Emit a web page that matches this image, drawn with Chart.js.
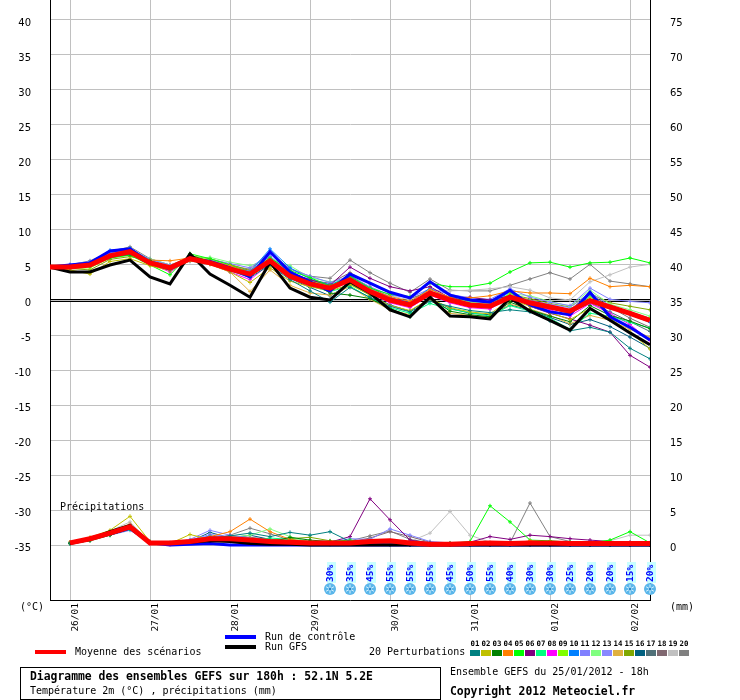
<!DOCTYPE html>
<html><head><meta charset="utf-8">
<script src="https://cdn.jsdelivr.net/npm/chart.js@4.4.1/dist/chart.umd.min.js"></script>
<style>
html,body{margin:0;padding:0;background:#fff;}
#wrap{position:relative;width:740px;height:700px;overflow:hidden;background:#fff;}
#c{position:absolute;left:0;top:0;}
.t{position:absolute;font-family:'DejaVu Sans Mono',monospace;font-size:10px;line-height:12px;color:#000;white-space:pre;}
.b{font-weight:bold;font-size:11.4px;line-height:13px;}
.ln{position:absolute;height:4px;}
.sw{position:absolute;width:10px;height:6px;}
.nm{position:absolute;font-family:'DejaVu Sans Mono',monospace;font-weight:bold;font-size:7.4px;line-height:8px;width:11px;text-align:center;}
#box{position:absolute;left:20px;top:667px;width:419px;height:31px;border:1px solid #000;}
</style></head><body>
<div id="wrap">
<canvas id="c" width="740" height="700"></canvas>
<div class="t" style="left:60px;top:501px;">Précipitations</div>
<div class="t" style="left:20px;top:601px;">(°C)</div>
<div class="t" style="left:670px;top:601px;">(mm)</div>
<div class="ln" style="left:35px;top:650px;width:31px;background:#ff0000;"></div>
<div class="t" style="left:75px;top:646px;">Moyenne des scénarios</div>
<div class="ln" style="left:225px;top:635px;width:31px;background:#0000ff;"></div>
<div class="t" style="left:265px;top:631px;">Run de contrôle</div>
<div class="ln" style="left:225px;top:645px;width:31px;background:#000000;"></div>
<div class="t" style="left:265px;top:641px;">Run GFS</div>
<div class="t" style="left:369px;top:646px;">20 Perturbations</div>
<div id="sw"></div>
<div id="box"></div>
<div class="t b" style="left:30px;top:670px;">Diagramme des ensembles GEFS sur 180h : 52.1N 5.2E</div>
<div class="t" style="left:30px;top:685px;">Température 2m (°C) , précipitations (mm)</div>
<div class="t" style="left:450px;top:666px;">Ensemble GEFS du 25/01/2012 - 18h</div>
<div class="t b" style="left:450px;top:685px;">Copyright 2012 Meteociel.fr</div>
</div>
<script>
// ---- axes / categories ----
const HOURS = [0,6,12,18,24,30,36,42,48,54,60,66,72,78,84,90,96,102,108,114,120,126,132,138,144,150,156,162,168,174,180];
const DATE_TICKS_H = [6,30,54,78,102,126,150,174];
const DATE_LABELS = ['26/01','27/01','28/01','29/01','30/01','31/01','01/02','02/02'];
const TEMP_TICKS = [-35,-30,-25,-20,-15,-10,-5,0,5,10,15,20,25,30,35,40];
const RIGHT_TICKS = [0,5,10,15,20,25,30,35,40,45,50,55,60,65,70,75];
const TEMP_MIN = -42.857, TEMP_MAX = 42.857;
const MM_MIN = -7.857, MM_MAX = 77.857;
const SNOW_HOURS = [84,90,96,102,108,114,120,126,132,138,144,150,156,162,168,174,180];
const SNOW_PCT = [30,35,45,55,55,55,45,50,55,40,30,30,25,20,20,15,20];
const PERT_LABELS = ['01','02','03','04','05','06','07','08','09','10','11','12','13','14','15','16','17','18','19','20'];
const PERT_COLORS = ['#008080','#c0c000','#008000','#ff8000','#00ff00','#800080','#00ff80','#ff00ff','#80ff00','#0080ff','#8080ff','#80ff80','#8888ff','#e0b040','#80a800','#006080','#507078','#806870','#c0c0c0','#808080'];

// ---- temperature 2m (°C) ----
const MEAN_T = [4.7,4.7,5.0,6.3,6.9,5.3,4.6,5.9,5.3,4.4,3.7,5.6,3.4,2.3,1.7,2.9,1.2,0.0,-0.7,1.0,0.0,-0.7,-0.9,0.4,-0.4,-1.0,-1.6,-0.1,-1.0,-1.9,-2.9];
const GFS_T = [4.7,4.0,4.0,5.0,5.7,3.3,2.3,6.6,3.7,2.1,0.4,5.4,1.7,0.4,0.0,2.6,1.0,-1.4,-2.4,0.4,-2.3,-2.4,-2.7,0.3,-1.6,-2.9,-4.3,-1.2,-2.9,-4.7,-6.4];
const CTRL_T = [4.7,5.0,5.3,7.0,7.3,5.3,4.4,5.9,5.5,4.6,3.3,6.9,4.0,2.6,1.3,3.7,2.4,1.1,0.3,2.6,0.7,0.0,-0.3,1.4,-0.7,-1.7,-2.1,1.1,-2.4,-3.9,-5.7];
const T01 = [4.7,4.6,4.9,6.1,6.6,5.2,4.5,6.2,5.4,4.2,3.2,5.0,2.9,1.3,-0.3,1.8,0.4,-0.9,-1.7,-0.2,-0.9,-1.5,-1.8,-1.4,-1.7,-3.0,-4.4,-3.9,-4.6,-6.9,-8.4];
const T02 = [4.7,4.3,3.7,5.5,5.9,4.9,4.2,5.6,5.1,4.0,2.5,4.6,2.7,1.9,1.3,2.2,0.7,-0.8,-1.5,0.2,-1.1,-1.7,-2.0,0.1,-0.9,-1.8,-2.8,-1.2,-2.6,-4.6,-7.0];
const T03 = [4.7,4.6,5.2,6.2,6.5,5.6,4.2,6.4,5.5,4.3,3.4,5.2,3.6,2.6,1.0,0.7,0.2,-1.2,-2.4,0.4,-1.6,-2.1,-2.4,-0.3,-1.4,-2.3,-3.1,-0.8,-2.2,-3.0,-4.1];
const T04 = [4.7,4.9,5.2,6.5,6.8,5.7,5.6,6.0,5.6,4.9,3.9,5.4,3.8,2.6,1.9,3.0,1.5,0.5,-0.2,1.5,0.4,0.3,0.6,1.3,1.0,1.0,0.9,3.1,1.9,2.1,1.9];
const T05 = [4.7,4.8,5.1,6.0,6.4,5.0,3.6,6.6,5.9,5.0,3.9,6.0,4.2,3.2,2.0,3.4,1.7,0.8,0.5,2.4,1.9,1.9,2.4,4.0,5.3,5.4,4.7,5.3,5.4,6.0,5.3];
const T06 = [4.7,4.7,5.1,6.4,7.0,5.4,4.5,5.8,5.2,4.3,3.5,5.5,3.9,2.9,2.1,4.7,3.1,1.9,1.3,1.9,0.3,0.4,0.0,0.6,-0.9,-1.9,-2.7,-3.6,-4.6,-7.9,-9.6];
const T07 = [4.7,4.6,4.9,6.2,6.8,5.1,4.4,6.1,5.5,4.5,3.6,5.3,3.2,2.0,1.2,2.0,0.3,-1.1,-1.9,-0.5,-1.3,-1.8,-2.3,-0.8,-1.6,-2.6,-4.2,-1.9,-2.3,-3.2,-4.0];
const T08 = [4.7,4.8,5.0,6.4,6.9,5.2,4.0,5.9,5.2,4.0,2.9,5.2,3.1,2.1,1.4,2.6,0.9,-0.4,-1.1,0.7,-0.4,-1.1,-1.3,0.5,-0.7,-1.4,-2.3,-0.5,-1.9,-3.5,-5.8];
const T09 = [4.7,4.5,4.6,6.0,6.5,5.5,4.8,6.2,5.7,4.7,3.8,5.5,3.5,2.6,2.1,2.7,1.0,-0.3,-1.0,0.9,-0.2,-0.9,-1.2,1.0,-0.2,-0.8,-1.5,0.4,-0.9,-1.8,-2.6];
const T10 = [4.7,5.0,5.4,7.1,7.4,5.7,4.7,5.8,5.6,4.8,4.0,7.3,4.6,3.0,2.2,3.3,1.6,0.3,-0.3,1.7,0.0,-0.6,-0.8,1.2,-0.6,-1.2,-1.9,0.6,-1.2,-2.1,-3.2];
const T11 = [4.7,5.1,5.5,6.8,7.2,5.8,5.0,5.7,5.8,5.2,4.6,6.6,4.5,3.4,2.5,3.4,1.9,0.7,0.3,1.6,0.8,0.3,0.1,1.6,0.4,-0.3,-0.8,1.7,0.1,-0.2,-0.4];
const T12 = [4.7,4.8,5.3,6.2,6.7,5.9,5.0,5.9,6.1,5.4,4.9,5.9,4.9,3.2,2.6,3.0,1.3,0.2,-0.5,0.8,0.1,-0.3,-0.6,0.9,0.6,-0.2,-0.9,1.4,-0.6,-1.4,-2.3];
const T13 = [4.7,4.9,5.3,6.6,7.0,5.4,4.9,5.5,5.4,4.6,4.1,6.3,3.7,2.5,1.8,3.1,1.4,0.3,-0.5,1.3,0.2,-0.6,-0.7,0.7,-0.1,-0.6,-1.1,1.1,-0.8,-1.7,-2.6];
const T14 = [4.7,4.6,4.9,6.1,6.6,5.0,4.3,5.6,5.1,4.0,1.2,4.3,2.1,1.0,0.7,1.9,0.1,-1.4,-2.1,0.0,-1.9,-2.2,-2.5,-0.6,-1.3,-2.2,-3.4,-2.2,-2.9,-4.2,-5.3];
const T15 = [4.7,4.5,4.3,5.8,6.2,5.6,4.8,6.3,5.9,5.1,4.2,5.7,3.8,2.9,1.9,2.4,0.9,-0.1,-0.8,0.6,0.3,-0.4,-0.6,0.8,0.2,-0.5,-1.0,0.9,-0.4,-0.9,-1.4];
const T16 = [4.7,4.7,5.0,6.3,6.8,5.3,4.7,6.0,5.4,4.3,3.6,5.2,3.1,1.8,0.6,2.3,0.7,-0.7,-1.6,0.2,-1.2,-1.9,-2.1,-0.7,-1.4,-2.5,-3.5,-2.8,-3.8,-5.3,-6.9];
const T17 = [4.7,4.8,5.1,6.5,7.1,5.4,4.5,5.8,5.2,4.4,3.8,5.9,3.4,2.4,1.6,3.5,1.8,0.4,-0.6,1.1,-0.1,-0.8,-1.0,0.5,-0.5,-1.2,-1.9,-0.4,-1.7,-3.1,-4.5];
const T18 = [4.7,4.9,5.4,6.7,7.3,5.6,4.8,5.9,5.5,4.7,4.2,6.2,3.9,2.8,2.4,3.9,2.3,1.0,0.2,1.2,0.4,-0.2,-0.4,0.7,0.0,-0.7,-1.4,0.9,-1.0,-2.6,-3.9];
const T19 = [4.7,4.8,5.2,6.6,7.0,5.5,4.9,6.0,5.6,4.8,4.1,6.1,3.8,2.7,2.0,3.2,1.6,0.6,0.0,1.4,1.3,1.4,1.6,1.9,1.4,0.3,0.0,2.6,3.6,4.7,5.1];
const T20 = [4.7,5.0,5.6,6.9,7.6,5.9,5.0,6.0,5.7,4.9,4.4,6.8,4.4,3.4,3.1,5.7,3.9,2.4,1.1,3.0,1.4,1.3,1.3,2.1,3.0,3.9,3.0,5.1,2.7,2.3,1.9];

// ---- precipitation (mm / 6h) ----
const MEAN_R = [null,0.3,0.9,1.7,2.6,0.3,0.3,0.5,0.9,0.9,0.7,0.5,0.4,0.3,0.3,0.3,0.5,0.6,0.3,0.1,0.1,0.2,0.3,0.2,0.3,0.3,0.2,0.2,0.2,0.2,0.2];
const GFS_R = [null,0.2,0.8,1.9,2.8,0.2,0.3,0.4,0.6,0.5,0.2,0.1,0.1,0,0,0,0,0,0,0,0,0,0,0,0,0,0,0,0,0,0];
const CTRL_R = [null,0.3,0.9,1.6,2.4,0.3,0,0.1,0.2,0,0,0,0,0,0,0,0,0,0,0,0,0,0,0,0,0,0,0,0,0,0];
const R01 = [null,0.3,0.8,1.6,2.5,0.4,0.3,0.6,1.0,1.3,1.7,1.2,1.8,1.4,1.9,0.5,0.2,0.1,0.0,0.1,0.0,0.1,0.2,0.1,0.1,0.0,0.0,0.1,0.0,0.0,0.0];
const R02 = [null,0.4,1.1,2.1,4.1,0.5,0.2,1.5,0.8,0.6,0.4,0.3,0.2,0.1,0.1,0.2,0.3,0.2,0.1,0.0,0.1,0.2,0.1,0.2,0.1,0.1,0.2,0.1,0.1,0.2,0.1];
const R03 = [null,0.2,0.6,1.4,2.3,0.3,0.2,0.4,0.5,0.9,0.6,0.4,1.1,0.7,0.5,0.3,0.2,0.1,0.0,0.0,0.1,0.1,0.0,0.3,0.2,0.1,0.1,0.0,0.1,0.0,0.1];
const R04 = [null,0.3,0.9,1.8,2.7,0.3,0.2,0.6,1.2,1.9,3.7,1.9,0.8,0.5,0.3,0.4,0.6,0.3,0.2,0.1,0.2,0.1,0.3,0.2,0.6,0.4,0.2,0.3,0.2,0.1,0.1];
const R05 = [null,0.3,0.8,1.5,2.4,0.4,0.2,0.3,0.6,0.7,0.5,0.6,0.4,0.3,0.5,0.7,0.4,0.3,0.2,0.2,0.2,0.5,5.6,3.3,0.7,0.6,0.4,0.3,0.7,1.9,0.3];
const R06 = [null,0.3,0.9,1.7,2.5,0.3,0.2,0.4,0.7,0.6,0.4,0.5,0.3,0.2,0.4,1.2,6.6,3.6,0.7,0.3,0.2,0.4,1.2,0.8,1.4,1.2,0.9,0.7,0.5,0.4,0.3];
const R07 = [null,0.2,0.7,1.5,2.2,0.3,0.3,0.5,0.8,0.7,0.6,1.0,0.8,0.5,0.4,0.3,0.2,0.1,0.1,0.2,0.1,0.1,0.2,0.1,0.3,0.2,0.1,0.1,0.2,0.1,0.0];
const R08 = [null,0.3,0.9,1.9,2.8,0.2,0.1,0.3,0.9,0.8,0.6,0.4,0.3,0.2,0.2,0.3,0.4,0.3,0.1,0.1,0.1,0.2,0.1,0.1,0.2,0.1,0.1,0.2,0.1,0.0,0.0];
const R09 = [null,0.3,0.8,1.6,2.5,0.4,0.2,0.5,0.7,0.6,0.9,0.5,0.4,0.3,0.3,0.2,0.3,0.2,0.2,0.1,0.2,0.1,0.2,0.3,0.2,0.1,0.2,0.1,0.0,0.1,0.1];
const R10 = [null,0.3,1.0,1.8,2.6,0.3,0.2,0.6,1.3,0.9,0.7,0.6,0.5,0.3,0.2,0.4,0.5,0.3,0.1,0.1,0.0,0.1,0.1,0.0,0.1,0.0,0.1,0.0,0.1,0.0,0.0];
const R11 = [null,0.2,0.7,1.4,2.1,0.3,0.2,0.8,2.1,1.4,1.0,0.7,0.5,0.3,0.4,0.9,0.8,2.3,1.4,0.5,0.3,0.2,0.2,0.1,0.2,0.1,0.1,0.2,0.1,0.1,0.0];
const R12 = [null,0.3,0.9,1.7,2.6,0.4,0.2,0.4,0.6,1.1,1.4,2.3,1.2,0.4,0.3,0.5,0.3,0.1,0.1,0.1,0.2,0.1,0.2,0.1,0.1,0.2,0.1,0.1,0.0,0.1,0.1];
const R13 = [null,0.2,0.8,1.5,2.3,0.3,0.3,0.7,1.5,1.2,0.8,0.5,0.3,0.2,0.2,0.3,0.2,0.2,0.1,0.1,0.1,0.1,0.0,0.1,0.1,0.1,0.0,0.1,0.1,0.0,0.1];
const R14 = [null,0.4,1.0,2.0,3.0,0.2,0.1,0.5,0.7,0.9,0.8,0.6,0.4,0.3,0.2,0.2,0.3,0.2,0.1,0.0,0.1,0.2,0.1,0.1,0.2,0.1,0.1,0.0,0.1,0.1,0.0];
const R15 = [null,0.3,0.8,1.6,2.4,0.3,0.2,0.4,0.6,0.8,1.0,0.7,0.9,1.1,0.6,0.4,0.2,0.1,0.0,0.1,0.1,0.2,0.1,0.2,0.1,0.0,0.1,0.1,0.0,0.0,0.1];
const R16 = [null,0.3,0.9,1.8,2.9,0.5,0.3,0.5,1.8,1.0,1.4,0.8,0.6,0.4,0.3,0.2,0.2,0.1,0.1,0.0,0.1,0.0,0.1,0.1,0.0,0.1,0.0,0.1,0.0,0.0,0.0];
const R17 = [null,0.3,0.9,1.7,2.7,0.3,0.2,0.4,0.7,0.8,0.6,0.4,0.3,0.2,0.1,0.3,0.5,0.4,0.2,0.1,0.1,0.2,0.1,0.1,0.2,0.1,0.1,0.1,0.0,0.1,0.0];
const R18 = [null,0.2,0.8,1.6,2.5,0.3,0.2,0.5,0.9,1.3,1.1,0.8,0.5,0.4,0.3,0.4,1.0,1.9,1.2,0.4,0.2,0.1,0.2,0.1,0.2,0.1,0.1,0.0,0.1,0.1,0.0];
const R19 = [null,0.4,1.0,2.0,3.3,0.4,0.3,0.6,1.0,1.1,0.9,0.7,0.5,0.4,0.3,0.4,0.2,0.2,0.5,1.7,4.8,1.4,0.4,0.2,0.3,0.4,0.2,0.3,0.6,1.4,1.4];
const R20 = [null,0.3,0.9,1.8,2.8,0.4,0.2,0.4,0.8,1.4,2.4,1.6,0.7,0.5,0.3,0.6,1.3,2.0,0.8,0.3,0.2,0.2,0.1,0.3,6.0,1.2,0.5,0.3,0.2,0.1,0.1];

const PERT_T = [T01,T02,T03,T04,T05,T06,T07,T08,T09,T10,T11,T12,T13,T14,T15,T16,T17,T18,T19,T20];
const PERT_R = [R01,R02,R03,R04,R05,R06,R07,R08,R09,R10,R11,R12,R13,R14,R15,R16,R17,R18,R19,R20];

// ---- legend swatches (DOM) ----
(function(){
  const host = document.getElementById('sw');
  PERT_COLORS.forEach((c,i)=>{
    const s = document.createElement('div'); s.className='sw';
    s.style.left=(470+i*11)+'px'; s.style.top='650px'; s.style.background=c; host.appendChild(s);
    const n = document.createElement('div'); n.className='nm'; n.textContent=PERT_LABELS[i];
    n.style.left=(469.5+i*11)+'px'; n.style.top='640px'; host.appendChild(n);
  });
})();

function series(label, vals, color, width, axis, order, pts){
  return {label, data: vals.map((v,i)=>({x:HOURS[i], y:v})), borderColor: color, backgroundColor: color,
    borderWidth: width, pointRadius: pts?2:0, pointStyle:'cross', pointBorderWidth:1, pointBorderColor: color,
    tension:0, yAxisID: axis, order, fill:false, spanGaps:false};
}
const datasets = [];
datasets.push(series('Moyenne des scénarios', MEAN_T, '#ff0000', 5, 'y', 0, false));
datasets.push(series('Run GFS', GFS_T, '#000000', 3, 'y', 1, false));
datasets.push(series('Run de contrôle', CTRL_T, '#0000ff', 3, 'y', 2, false));
PERT_T.forEach((d,i)=>datasets.push(series('P'+PERT_LABELS[i], d, PERT_COLORS[i], 1, 'y', 10+i, true)));
datasets.push(series('Moyenne précip', MEAN_R, '#ff0000', 5, 'y2', 0, false));
datasets.push(series('GFS précip', GFS_R, '#000000', 3, 'y2', 1, false));
datasets.push(series('Contrôle précip', CTRL_R, '#0000ff', 3, 'y2', 2, false));
PERT_R.forEach((d,i)=>datasets.push(series('R'+PERT_LABELS[i], d, PERT_COLORS[i], 1, 'y2', 10+i, true)));

const zeroLine = {
  id:'zeroLine',
  beforeDatasetsDraw(chart){
    const ctx=chart.ctx, a=chart.chartArea, y0=Math.round(chart.scales.y.getPixelForValue(0));
    ctx.save(); ctx.strokeStyle='#000'; ctx.lineWidth=1;
    [y0-0.5, y0+1.5].forEach(y=>{ctx.beginPath(); ctx.moveTo(a.left,y); ctx.lineTo(a.right,y); ctx.stroke();});
    ctx.restore();
  }
};
const snow = {
  id:'snow',
  afterDraw(chart){
    const ctx=chart.ctx, xs=chart.scales.x;
    SNOW_HOURS.forEach((h,i)=>{
      const x=Math.round(xs.getPixelForValue(h));
      ctx.save();
      ctx.fillStyle='#c8ffff'; ctx.fillRect(x-3,562,9,21);
      ctx.translate(x+0.5,582); ctx.rotate(-Math.PI/2);
      ctx.fillStyle='#0000ff'; ctx.font='bold 9.5px "DejaVu Sans Mono"'; ctx.textAlign='left'; ctx.textBaseline='middle';
      ctx.fillText(SNOW_PCT[i]+'%',0,0);
      ctx.restore();
      ctx.save();
      const cy=589;
      ctx.beginPath(); ctx.arc(x,cy,6,0,Math.PI*2); ctx.fillStyle='#5ab6ea'; ctx.fill();
      ctx.strokeStyle='#d8f2ff'; ctx.lineWidth=1;
      for(let k=0;k<3;k++){const an=k*Math.PI/3+Math.PI/2; ctx.beginPath(); ctx.moveTo(x+Math.cos(an)*4.5,cy+Math.sin(an)*4.5); ctx.lineTo(x-Math.cos(an)*4.5,cy-Math.sin(an)*4.5); ctx.stroke();}
      ctx.beginPath(); ctx.arc(x,cy,1.3,0,Math.PI*2); ctx.fillStyle='#2a86c8'; ctx.fill();
      ctx.restore();
    });
  }
};

const gridGray = '#c0c0c0';
new Chart(document.getElementById('c'), {
  type:'line',
  data:{datasets},
  plugins:[zeroLine, snow],
  options:{
    responsive:false, animation:false, devicePixelRatio:1,
    layout:{padding:0, autoPadding:false},
    plugins:{legend:{display:false}, tooltip:{enabled:false}},
    elements:{line:{borderJoinStyle:'miter'}},
    scales:{
      x:{type:'linear', min:0, max:180, position:'bottom',
        afterBuildTicks:s=>{s.ticks=DATE_TICKS_H.map(v=>({value:v}));},
        afterFit:s=>{s.height=100; s.paddingLeft=0; s.paddingRight=0;},
        grid:{color:gridGray, lineWidth:1, drawTicks:false},
        border:{display:true, color:'#000', width:1},
        ticks:{autoSkip:false, minRotation:90, maxRotation:90, labelOffset:6, padding:3, color:'#000',
          font:{family:'DejaVu Sans Mono', size:9.5},
          callback:v=>DATE_LABELS[DATE_TICKS_H.indexOf(v)]}},
      y:{type:'linear', min:TEMP_MIN, max:TEMP_MAX, position:'left',
        afterBuildTicks:s=>{s.ticks=TEMP_TICKS.map(v=>({value:v}));},
        afterFit:s=>{s.width=50; s.paddingTop=0; s.paddingBottom=0;},
        grid:{color:gridGray, lineWidth:1, drawTicks:false},
        border:{display:true, color:'#000', width:1},
        ticks:{padding:19, labelOffset:3, color:'#000', font:{family:'DejaVu Sans', size:10}, callback:v=>String(v)}},
      y2:{type:'linear', min:MM_MIN, max:MM_MAX, position:'right',
        afterBuildTicks:s=>{s.ticks=RIGHT_TICKS.map(v=>({value:v}));},
        afterFit:s=>{s.width=90; s.paddingTop=0; s.paddingBottom=0;},
        grid:{display:false, drawTicks:false},
        border:{display:true, color:'#000', width:1},
        ticks:{padding:20, labelOffset:3, color:'#000', font:{family:'DejaVu Sans', size:10}, callback:v=>String(v)}}
    }
  }
});
</script>
</body></html>
